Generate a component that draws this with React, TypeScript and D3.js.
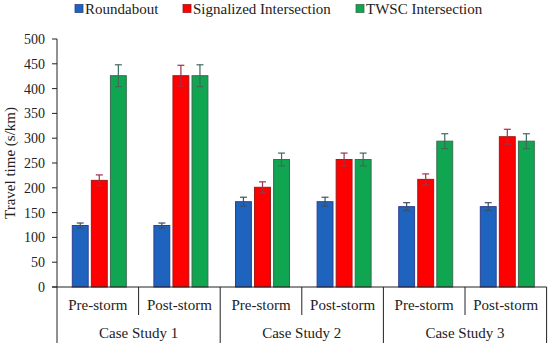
import React from "react";
import * as d3 from "d3";

const caseStudies = ["Case Study 1", "Case Study 2", "Case Study 3"];
const periods = ["Pre-storm", "Post-storm"];
const seriesNames = ["Roundabout", "Signalized Intersection", "TWSC Intersection"];
// values per group (CS1 pre, CS1 post, CS2 pre, CS2 post, CS3 pre, CS3 post)
const roundabout = [124, 124, 172, 172, 162, 162];
const signalized = [215, 426, 201, 257, 217, 303];
const twsc = [426, 426, 257, 257, 294, 294];
const roundaboutErr = [5, 5, 9, 9, 8, 8];
const signalizedErr = [11, 21, 11, 13, 11, 15];
const twscErr = [22, 22, 13, 13, 15, 15];
const yTicks = [0, 50, 100, 150, 200, 250, 300, 350, 400, 450, 500];

const fills = ["#1e64be", "#ff0000", "#10a550"];
const strokes = ["#2f3f8f", "#a01818", "#3d6a4f"];
const errColors = ["#3a4f6a", "#a0304a", "#3f6b5a"];

export default function App() {
  const W = 550, H = 349;
  const x0 = 57, x1 = 546.6;
  const groups = d3.range(6);
  const x = d3.scaleBand<number>().domain(groups).range([x0, x1]).padding(0);
  const y = d3.scaleLinear().domain([0, 500]).range([287, 39]);
  const inner = d3.scaleBand<number>().domain([0, 1, 2]).range([15.3, 15.3 + 54]).paddingInner(3 / 18).paddingOuter(0);
  const values = [roundabout, signalized, twsc];
  const errs = [roundaboutErr, signalizedErr, twscErr];
  const font = "'Liberation Serif', 'Times New Roman', serif";
  const legendX = [75, 183, 356];

  return (
    <svg width={W} height={H} style={{ position: "absolute", left: 0, top: 0, background: "#fff" }} fontFamily={font}>
      {/* legend */}
      {seriesNames.map((n, i) => (
        <g key={n}>
          <rect x={legendX[i]} y={4.5} width={8} height={8} fill={fills[i]} stroke={strokes[i]} strokeWidth={0.8} />
          <text x={legendX[i] + 10} y={14} fontSize={15} fill="#222">{n}</text>
        </g>
      ))}
      {/* y label */}
      <text transform={`translate(15,${(39 + 287) / 2}) rotate(-90)`} textAnchor="middle" fontSize={15} fill="#222">
        Travel time (s/km)
      </text>
      {/* y axis */}
      <line x1={x0} x2={x0} y1={y(500)} y2={343} stroke="#222" strokeWidth={1} />
      {yTicks.map((t) => (
        <g key={t}>
          <line x1={52} x2={x0} y1={y(t)} y2={y(t)} stroke="#222" strokeWidth={1} />
          <text x={45} y={y(t) + 5} textAnchor="end" fontSize={14} fill="#222">{t}</text>
        </g>
      ))}
      {/* bars */}
      {groups.map((g) => (
        <g key={g}>
          {values.map((vals, s) => {
            const bx = (x(g) as number) + (inner(s) as number);
            const bw = inner.bandwidth();
            const v = vals[g];
            const e = errs[s][g];
            const cx = bx + bw / 2;
            return (
              <g key={s}>
                <rect x={bx} y={y(v)} width={bw} height={y(0) - y(v)} fill={fills[s]} stroke={strokes[s]} strokeWidth={1} />
                <line x1={cx} x2={cx} y1={y(v + e)} y2={y(v - e)} stroke={errColors[s]} strokeWidth={1.2} />
                <line x1={cx - 3.5} x2={cx + 3.5} y1={y(v + e)} y2={y(v + e)} stroke={errColors[s]} strokeWidth={1.2} />
                <line x1={cx - 3.5} x2={cx + 3.5} y1={y(v - e)} y2={y(v - e)} stroke={errColors[s]} strokeWidth={1.2} />
              </g>
            );
          })}
        </g>
      ))}
      {/* x axis */}
      <line x1={52} x2={x1} y1={y(0)} y2={y(0)} stroke="#222" strokeWidth={1.2} />
      {groups.map((g) => {
        const gx = x(g) as number;
        return (
          <g key={g}>
            {g % 2 === 1 && <line x1={gx} x2={gx} y1={y(0)} y2={315} stroke="#222" strokeWidth={1} />}
            {g % 2 === 0 && g > 0 && <line x1={gx} x2={gx} y1={y(0)} y2={343} stroke="#222" strokeWidth={1} />}
            <text x={gx + x.bandwidth() / 2} y={310} textAnchor="middle" fontSize={15} fill="#222">
              {periods[g % 2]}
            </text>
          </g>
        );
      })}
      <line x1={x1} x2={x1} y1={y(0)} y2={343} stroke="#222" strokeWidth={1} />
      {caseStudies.map((c, i) => (
        <text key={c} x={(x(i * 2) as number) + x.bandwidth()} y={338} textAnchor="middle" fontSize={15} fill="#222">
          {c}
        </text>
      ))}
    </svg>
  );
}
